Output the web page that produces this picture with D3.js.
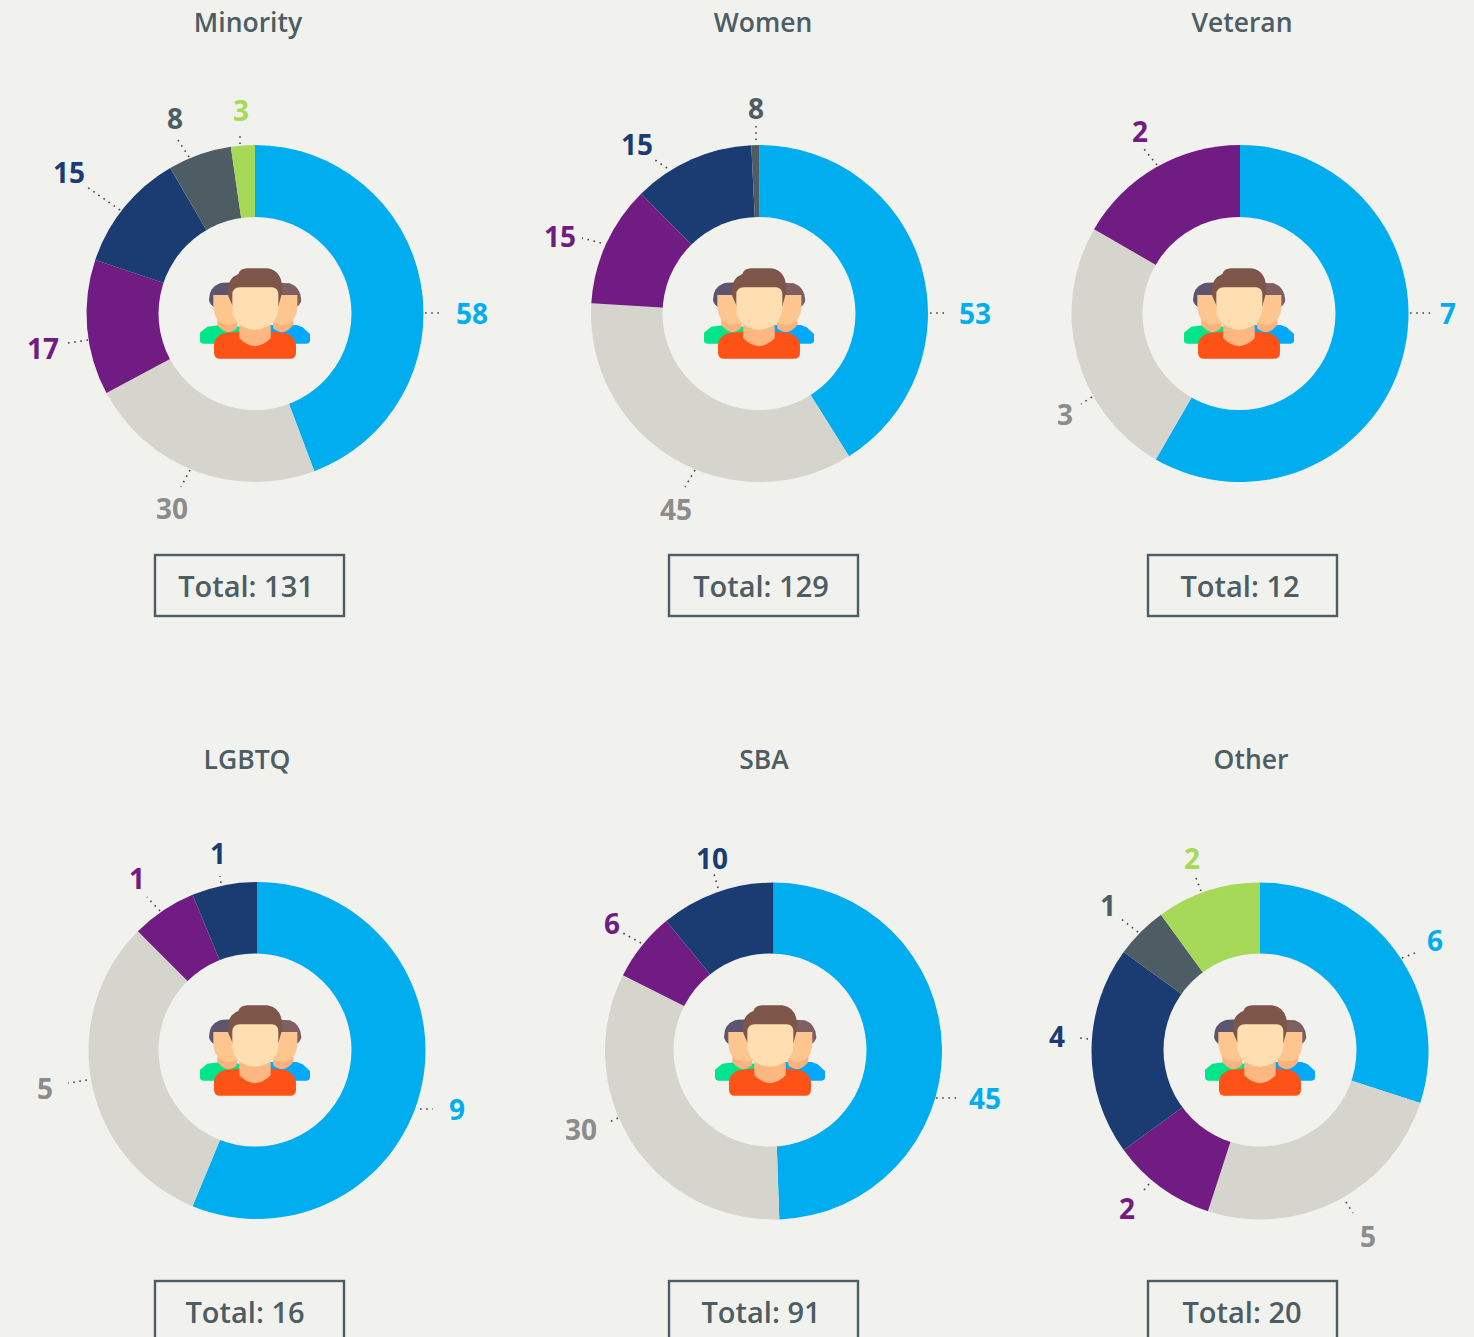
<!DOCTYPE html>
<html>
<head>
<meta charset="utf-8">
<title>Diversity donuts</title>
<script src="https://cdnjs.cloudflare.com/ajax/libs/d3/7.8.5/d3.min.js"></script>
<style>
    html, body { margin: 0; padding: 0; background: #f1f2ee; overflow: hidden; }
    svg { display: block; }
    text { font-family: "Open Sans", "Noto Sans", sans-serif; font-weight: 600; }
</style>
</head>
<body>
<svg id="chart" width="1474" height="1337"></svg>
<script>
var titles = ['Minority', 'Women', 'Veteran', 'LGBTQ', 'SBA', 'Other'];
var categories = ['blue', 'grey', 'purple', 'navy', 'slate', 'green'];

// slice sizes, in category order
var minorityValues = [58, 30, 17, 15, 8, 3];
var womenValues = [53, 45, 15, 15, 1, 0];   // the slate slice is a sliver although it is labelled 8
var veteranValues = [7, 3, 2, 0, 0, 0];
var lgbtqValues = [9, 5, 1, 1, 0, 0];
var sbaValues = [45, 30, 6, 10, 0, 0];
var otherValues = [6, 5, 2, 4, 1, 2];
var allValues = [minorityValues, womenValues, veteranValues, lgbtqValues, sbaValues, otherValues];

// printed labels
var womenLabels = [53, 45, 15, 15, 8, 0];
var allLabels = [minorityValues, womenLabels, veteranValues, lgbtqValues, sbaValues, otherValues];

var totals = [131, 129, 12, 16, 91, 20];

var colors = {
    blue: '#00aeef', grey: '#d5d5cd', purple: '#711c82',
    navy: '#1b3c72', slate: '#4d5d63', green: '#a5d957'
};
var labelColors = {
    blue: '#00aeef', grey: '#8c8c8c', purple: '#711c82',
    navy: '#1b3c72', slate: '#4d5d63', green: '#a5d957'
};

// page layout per panel: ring centre, hole centre, title x, total text x, box x
var panels = [
    {cx: 255, cy: 313.5, hx: 255, hy: 313.5, tx: 248, ttx: 246, bx: 155, ty: 22, by: 555},
    {cx: 759.5, cy: 313.5, hx: 759, hy: 313.5, tx: 763, ttx: 761, bx: 669, ty: 22, by: 555},
    {cx: 1240, cy: 313.5, hx: 1239, hy: 313.5, tx: 1242, ttx: 1240, bx: 1148, ty: 22, by: 555},
    {cx: 257, cy: 1050.5, hx: 255, hy: 1050, tx: 247, ttx: 245, bx: 155, ty: 759, by: 1281},
    {cx: 773.5, cy: 1051, hx: 770, hy: 1050, tx: 764, ttx: 761, bx: 669, ty: 759, by: 1281},
    {cx: 1260, cy: 1051, hx: 1260, hy: 1050, tx: 1251, ttx: 1242, bx: 1148, ty: 759, by: 1281}
];

// hand placed callouts per category: label x, label y, leader start x, y, leader end x, y
var callouts = [
    {blue: [472, 313, 425, 313, 441, 313], grey: [172, 508, 190, 470, 181, 487], purple: [43, 348, 88, 340, 68, 343],
     navy: [69, 172, 120, 210, 87, 187], slate: [175, 118, 189, 157, 178, 140], green: [241, 110, 240, 144, 240, 132]},
    {blue: [975, 313, 930, 313, 945, 313], grey: [676, 509, 695, 470, 685, 487], purple: [560, 236, 601, 243, 582, 238],
     navy: [637, 144, 667, 168, 655, 160], slate: [756, 108, 756, 140, 756, 126]},
    {blue: [1448, 313, 1410, 313, 1431, 313], grey: [1065, 414, 1092, 397, 1081, 404], purple: [1140, 131, 1157, 165, 1144, 149]},
    {blue: [457, 1109, 420, 1109, 433, 1109], grey: [45, 1088, 87, 1080, 68, 1083], purple: [137, 878, 160, 911, 147, 897],
     navy: [218, 853, 221, 883, 220, 876]},
    {blue: [985, 1098, 936, 1098, 957, 1098], grey: [581, 1129, 618, 1118, 607, 1123], purple: [612, 923, 641, 943, 623, 933],
     navy: [712, 858, 718, 888, 714, 874]},
    {blue: [1435, 940, 1402, 958, 1415, 953], grey: [1368, 1236, 1346, 1202, 1353, 1213], purple: [1127, 1208, 1149, 1184, 1144, 1190],
     navy: [1057, 1036, 1088, 1039, 1079, 1038], slate: [1108, 905, 1138, 932, 1121, 919], green: [1192, 858, 1201, 891, 1196, 878]}
];

var outerRadius = 168.5;
var holeRadius = 96.5;
var boxWidth = 189;
var boxHeight = 61;

var svg = d3.select('#chart');
svg.append('rect').attr('width', 1474).attr('height', 1337).attr('fill', '#f1f2ee');

var pie = d3.pie().sort(null).value(function(d) { return d.value; });
var arc = d3.arc().innerRadius(0).outerRadius(outerRadius);

// people icon, traced on a 3x grid and scaled back down
function drawIcon(parent, x, y) {
    var g = parent.append('g')
        .attr('transform', 'translate(' + x + ',' + y + ') scale(0.3333) translate(-195,-189)');
    var shapes = [
        ['M30,262 L30,248 L52,230 L100,224 L150,230 L150,281 L40,281 Q30,281 30,271 Z', '#00e58b'],
        ['M240,225 L320,225 L338,232 L360,252 L360,271 Q360,281 350,281 L240,281 Z', '#00a9ff'],
        ['M82,190 L82,225 Q112,262 140,235 L148,190 Z', '#fdb27d'],
        ['M245,190 L250,235 Q280,262 310,225 L310,190 Z', '#fdb27d'],
        ['M57,150 Q58,112 85,102 Q95,97 130,98 L150,110 L130,150 L75,150 L74,172 Q59,165 57,150 Z', '#5e546f'],
        ['M240,110 L265,98 L300,100 Q332,112 334,150 Q332,165 318,172 L316,150 L260,150 Z', '#7f5f62'],
        ['M70,135 L160,135 L160,200 Q150,224 115,224 Q72,218 70,170 Z', '#fdc68f'],
        ['M232,135 L322,135 L322,170 Q320,218 280,224 Q245,224 232,200 Z', '#fdc68f'],
        ['M72,300 L72,282 Q74,262 100,250 L145,245 L245,245 L290,250 Q316,262 318,285 L318,308 Q318,326 300,326 L90,326 Q72,326 72,308 Z', '#ff5216'],
        ['M148,205 L148,265 Q195,312 242,265 L242,205 Z', '#ffb782'],
        ['M113,122 Q113,85 145,72 Q150,56 172,55 L232,55 Q275,62 276,112 L276,130 L265,168 L128,168 L120,150 Q113,137 113,122 Z', '#7d5549'],
        ['M127,135 Q127,112 150,112 L245,112 Q265,112 265,135 L265,178 Q265,208 235,228 Q195,250 155,228 Q127,208 127,178 Z', '#ffdfb1']
    ];
    g.selectAll('path').data(shapes).enter().append('path')
        .attr('d', function(d) { return d[0]; })
        .attr('fill', function(d) { return d[1]; });
}

panels.forEach(function(p, i) {
    var slices = categories.map(function(c, j) {
        return {category: c, value: allValues[i][j], label: allLabels[i][j]};
    }).filter(function(d) { return d.value > 0; });

    var panel = svg.append('g').attr('class', 'panel');

    panel.append('text')
        .attr('x', p.tx).attr('y', p.ty)
        .attr('text-anchor', 'middle').attr('dominant-baseline', 'central')
        .style('font-size', '26.5px')
        .attr('fill', '#4d5d63')
        .text(titles[i]);

    var ring = panel.append('g').attr('transform', 'translate(' + p.cx + ',' + p.cy + ')');
    ring.selectAll('path').data(pie(slices)).enter().append('path')
        .attr('d', arc)
        .attr('fill', function(d) { return colors[d.data.category]; });

    panel.append('circle')
        .attr('cx', p.hx).attr('cy', p.hy).attr('r', holeRadius)
        .attr('fill', '#f1f2ee');

    drawIcon(panel, p.hx, Math.floor(p.hy));

    slices.forEach(function(d) {
        var c = callouts[i][d.category];
        panel.append('line')
            .attr('x1', c[2]).attr('y1', c[3]).attr('x2', c[4]).attr('y2', c[5])
            .attr('stroke', '#444').attr('stroke-width', 1.6)
            .attr('stroke-dasharray', '1.6 4.6');
        panel.append('text')
            .attr('x', c[0]).attr('y', c[1] - 0.5)
            .attr('text-anchor', 'middle').attr('dominant-baseline', 'central')
            .style('font-size', '28px').style('font-weight', 700)
            .attr('fill', labelColors[d.category])
            .text(d.label);
    });

    panel.append('rect')
        .attr('x', p.bx).attr('y', p.by)
        .attr('width', boxWidth).attr('height', boxHeight)
        .attr('fill', 'none').attr('stroke', '#4d5d63').attr('stroke-width', 2.4);

    panel.append('text')
        .attr('x', p.ttx).attr('y', p.by + boxHeight / 2 - 0.5)
        .attr('text-anchor', 'middle').attr('dominant-baseline', 'central')
        .style('font-size', '29px')
        .attr('fill', '#4d5d63')
        .text('Total: ' + totals[i]);
});
</script>
</body>
</html>
